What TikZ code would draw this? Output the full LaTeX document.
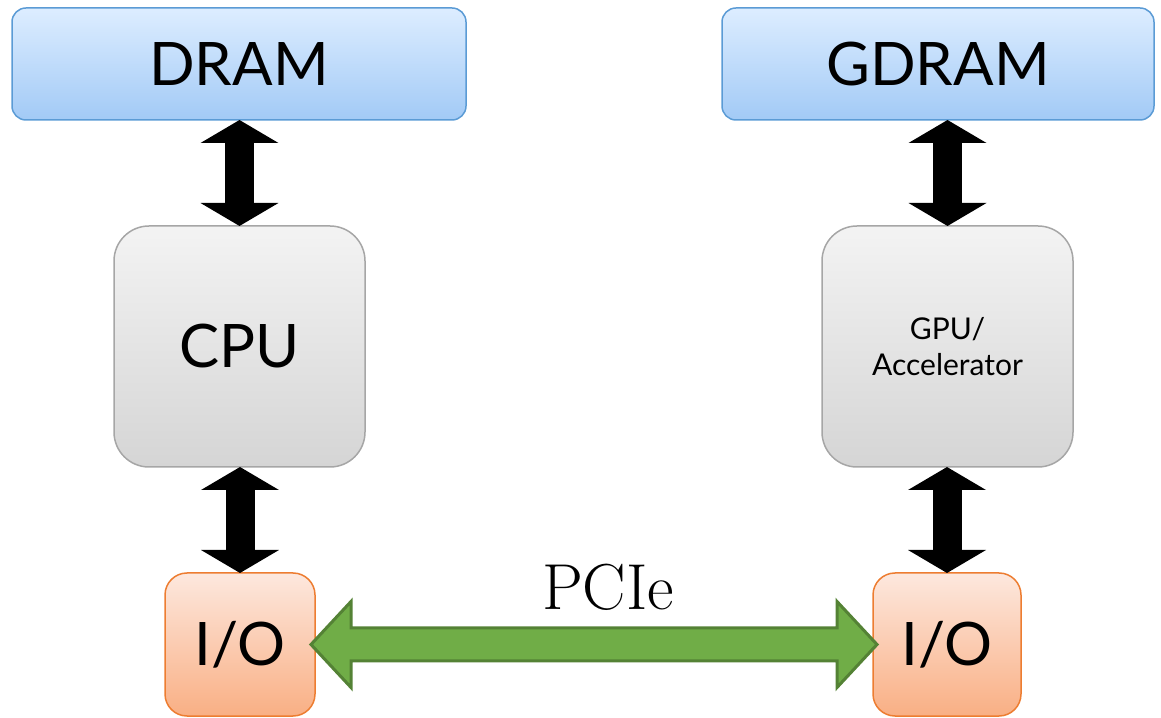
\documentclass[tikz,border=0pt]{standalone}
\usepackage{fontspec}
\setsansfont{Lato}
\usetikzlibrary{arrows.meta,calc}
\definecolor{memtop}{HTML}{DDEDFF}
\definecolor{membot}{HTML}{A2CAF6}
\definecolor{memdraw}{HTML}{5B9BD5}
\definecolor{proctop}{HTML}{F3F3F3}
\definecolor{procbot}{HTML}{D5D5D5}
\definecolor{procdraw}{HTML}{A6A6A6}
\definecolor{iotop}{HTML}{FDE8DE}
\definecolor{iobot}{HTML}{F9AF84}
\definecolor{iodraw}{HTML}{ED7D31}
\definecolor{pciefill}{HTML}{70AD47}
\definecolor{pciedraw}{HTML}{548235}
\begin{document}
\begin{tikzpicture}[x=1pt,y=1pt,
  box/.style={rectangle,inner sep=0pt,outer sep=0pt,line width=1.5pt,font=\sffamily},
  bigtext/.style={font=\sffamily\fontsize{60}{66}\selectfont},
  membox/.style={box,top color=memtop,bottom color=membot,draw=memdraw,rounded corners=14pt,minimum height=112pt,bigtext},
  procbox/.style={box,top color=proctop,bottom color=procbot,draw=procdraw,rounded corners=35pt,minimum width=251pt,minimum height=241pt},
  iobox/.style={box,top color=iotop,bottom color=iobot,draw=iodraw,rounded corners=22pt,minimum height=143pt,bigtext},
  busarrow/.style={line width=29pt,{Triangle[width=77pt,length=23pt]}-{Triangle[width=77pt,length=23pt]}},
  pciearrow/.style={fill=pciefill,draw=pciedraw,line width=3pt,line join=miter}
]
\useasboundingbox (0,0) rectangle (1161,717);
\node[membox,minimum width=454pt] (dram) at (239,653) {DRAM};
\node[membox,minimum width=432pt] (gdram) at (938,653) {GDRAM};
\node[procbox,bigtext] (cpu) at (239.5,370.5) {CPU};
\node[procbox,align=center,font=\sffamily\fontsize{30}{36}\selectfont] (gpu) at (947.5,370.5) {GPU/\\Accelerator};
\node[iobox,minimum width=150pt] (io1) at (240,72.5) {I/O};
\node[iobox,minimum width=148pt] (io2) at (947,72.5) {I/O};
% memory buses
\draw[busarrow] (dram.south -| cpu.north) -- (cpu.north);
\draw[busarrow] (cpu.south -| io1.north) -- (io1.north);
\draw[busarrow] (gdram.south -| gpu.north) -- (gpu.north);
\draw[busarrow] (gpu.south -| io2.north) -- (io2.north);
% PCIe link
\draw[pciearrow] let \p1=(io1.east), \p2=(io2.west) in
  (\x1-4pt,\y1) -- (\x1+36pt,\y1+43pt) -- (\x1+36pt,\y1+16.5pt) --
  (\x2-36pt,\y1+16.5pt) -- (\x2-36pt,\y1+43pt) -- (\x2+4pt,\y1) --
  (\x2-36pt,\y1-43pt) -- (\x2-36pt,\y1-16.5pt) -- (\x1+36pt,\y1-16.5pt) --
  (\x1+36pt,\y1-43pt) -- cycle;
\node[anchor=base,font=\fontsize{65}{72}\selectfont,inner sep=0pt] (pcie) at (608,107) {PCIe};
\end{tikzpicture}
\end{document}
